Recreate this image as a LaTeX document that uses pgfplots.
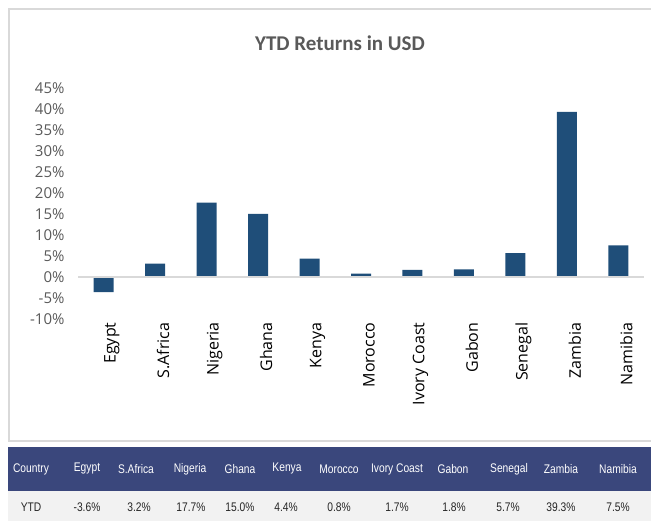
\documentclass[border=0pt]{standalone}
\usepackage{fontspec}
\setmainfont{Open Sans}
\newfontfamily\titlefont{Carlito}
\newfontfamily\narrow[FakeStretch=0.82]{Liberation Sans}
\usepackage{pgfplots}
\pgfplotsset{compat=1.18}
\definecolor{barblue}{RGB}{31,78,121}
\definecolor{labelgray}{RGB}{89,89,89}
\definecolor{boxgray}{RGB}{217,217,217}
\definecolor{headblue}{RGB}{58,71,124}
\definecolor{rowgray}{RGB}{242,242,242}
\definecolor{celltext}{RGB}{38,38,38}

\begin{document}
\begin{tikzpicture}[x=1pt,y=1pt]
\path[use as bounding box] (0,0) rectangle (651,521);
\begin{scope}
  \clip (0,0) rectangle (651,521);
  \draw[boxgray, line width=2pt] (9,80) rectangle (680,512);
\end{scope}
\node[font=\titlefont\bfseries\fontsize{21}{24}\selectfont, text=labelgray] at (340,478) {YTD Returns in USD};

\begin{axis}[
  at={(78pt,202pt)}, anchor=south west,
  scale only axis, width=566pt, height=231pt,
  xmin=-0.5, xmax=10.5, ymin=-10, ymax=45,
  ytick={-10,-5,...,45},
  xtick={0,...,10},
  xticklabels={Egypt,S.Africa,Nigeria,Ghana,Kenya,Morocco,Ivory Coast,Gabon,Senegal,Zambia,Namibia},
  axis line style={draw=none},
  tick style={draw=none},
  /pgf/number format/assume math mode=true,
  yticklabel={\pgfmathprintnumber{\tick}\%},
  yticklabel style={font=\fontsize{15}{18}\selectfont, text=labelgray, xshift=-10pt},
  xticklabel style={font=\fontsize{16}{19}\selectfont, text=black, rotate=90, anchor=east, yshift=-8pt},
  clip=false,
]
\addplot[ybar, bar width=20pt, fill=barblue, draw=none]
  coordinates {(0,-3.6)(1,3.2)(2,17.7)(3,15.0)(4,4.4)(5,0.8)(6,1.7)(7,1.8)(8,5.7)(9,39.3)(10,7.5)};
\draw[boxgray, line width=1.5pt] (axis cs:-0.5,0) -- (axis cs:10.5,0);
\end{axis}

% table below the chart
\fill[headblue] (8,30) rectangle (651,74);
\fill[rowgray] (8,0) rectangle (651,30);
\foreach \x/\t in {31/Country,87/Egypt,136/S.Africa,190/Nigeria,240/Ghana,287/Kenya,339/Morocco,397/Ivory Coast,453/Gabon,509/Senegal,561/Zambia,618/Namibia}
  \node[text=white, font=\narrow\fontsize{12.5}{15}\selectfont] at (\x,52) {\t};
\foreach \x/\t in {31/YTD,87/-3.6\%,139/3.2\%,191/17.7\%,240/15.0\%,286/4.4\%,339/0.8\%,397/1.7\%,454/1.8\%,508/5.7\%,561/39.3\%,618/7.5\%}
  \node[text=celltext, font=\narrow\fontsize{12.5}{15}\selectfont] at (\x,14) {\t};
\end{tikzpicture}
\end{document}
